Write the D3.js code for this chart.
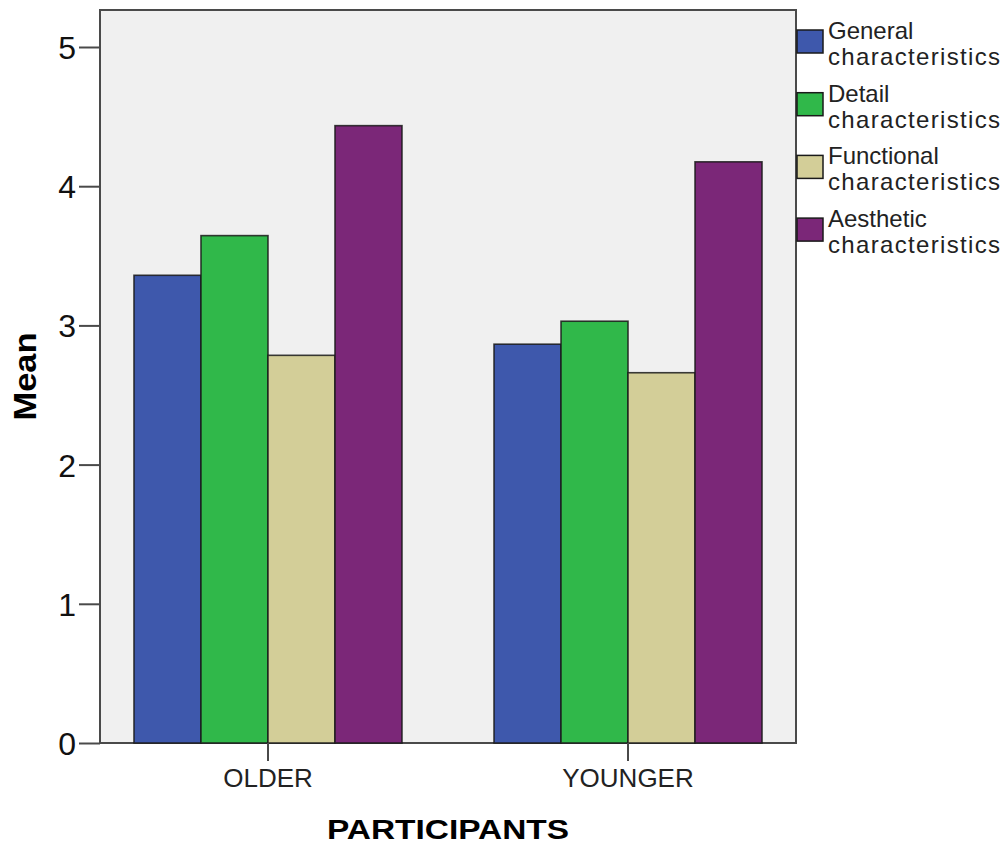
<!DOCTYPE html>
<html><head><meta charset="utf-8">
<script src="https://cdn.jsdelivr.net/npm/d3@7"></script>
<style>body{margin:0;background:#fff}svg{display:block}</style>
</head><body>
<svg id="chart" width="1004" height="844"></svg>
<script>
const categories = ["OLDER", "YOUNGER"];
const seriesNames = ["General characteristics", "Detail characteristics", "Functional characteristics", "Aesthetic characteristics"];
const generalVals = [3.36, 2.865];
const detailVals = [3.645, 3.03];
const functionalVals = [2.785, 2.66];
const aestheticVals = [4.435, 4.175];
const yTicks = [0, 1, 2, 3, 4, 5];
const colors = ["#3e58ac", "#30b84a", "#d3ce98", "#7b2778"];

const seriesVals = [generalVals, detailVals, functionalVals, aestheticVals];
const svg = d3.select("#chart");
const L = 100, R = 796, T = 10, B = 743;
const font = "Arial, 'Liberation Sans', sans-serif";

const x0 = d3.scaleBand().domain(categories).range([L, R]).paddingInner(0.2556).paddingOuter(0.0944);
const x1 = d3.scaleBand().domain(d3.range(seriesNames.length)).range([0, x0.bandwidth()]);
const y = d3.scaleLinear().domain([0, 5]).range([B, 47]);

svg.append("rect").attr("x", L).attr("y", T).attr("width", R - L).attr("height", B - T)
  .attr("fill", "#f0f0f0").attr("stroke", "#4a4a4a").attr("stroke-width", 2);

const g = svg.append("g");
categories.forEach((c, ci) => {
  seriesVals.forEach((vals, si) => {
    g.append("rect")
      .attr("x", x0(c) + x1(si)).attr("y", y(vals[ci]))
      .attr("width", x1.bandwidth()).attr("height", y(0) - y(vals[ci]))
      .attr("fill", colors[si]).attr("stroke", "#1a1a1a").attr("stroke-opacity", 0.85).attr("stroke-width", 1.6);
  });
});

// y axis
const yAxis = svg.append("g").attr("transform", `translate(${L},0)`)
  .call(d3.axisLeft(y).tickValues(yTicks).tickSize(21).tickPadding(3).tickFormat(d3.format("d")));
yAxis.select(".domain").remove();
yAxis.selectAll("line").attr("stroke", "#4a4a4a").attr("stroke-width", 2);
yAxis.selectAll("text").attr("font-family", font).attr("font-size", 32).attr("fill", "#111").attr("dy", "0.36em");

// x axis
const xAxis = svg.append("g").attr("transform", `translate(0,${B})`)
  .call(d3.axisBottom(x0).tickSize(18).tickPadding(8));
xAxis.select(".domain").remove();
xAxis.selectAll("line").attr("stroke", "#4a4a4a").attr("stroke-width", 2);
xAxis.selectAll("text").attr("font-family", font).attr("font-size", 26).attr("fill", "#222").attr("dy", "0.71em");

// axis titles
svg.append("text").attr("transform", `translate(36,${(T + B) / 2}) rotate(-90)`)
  .attr("text-anchor", "middle").attr("font-family", font).attr("font-weight", "bold")
  .attr("font-size", 32).attr("textLength", 88).attr("lengthAdjust", "spacingAndGlyphs").text("Mean");
svg.append("text").attr("x", (L + R) / 2).attr("y", 839)
  .attr("text-anchor", "middle").attr("font-family", font).attr("font-weight", "bold")
  .attr("font-size", 27).attr("textLength", 242).attr("lengthAdjust", "spacingAndGlyphs").text("PARTICIPANTS");

// legend
const leg = svg.append("g");
seriesNames.forEach((name, i) => {
  const top = 30 + i * 62.7;
  leg.append("rect").attr("x", 797).attr("y", top).attr("width", 26).attr("height", 23)
    .attr("fill", colors[i]).attr("stroke", "#1a1a1a").attr("stroke-width", 1.5);
  const parts = name.split(" ");
  parts.forEach((p, j) => {
    const t = leg.append("text").attr("x", 828).attr("y", top + 9 + j * 26)
      .attr("font-family", font).attr("font-size", 24).attr("fill", "#222").text(p);
    if (j === 1) t.attr("textLength", 172).attr("lengthAdjust", "spacing");
  });
});
</script>
</body></html>
